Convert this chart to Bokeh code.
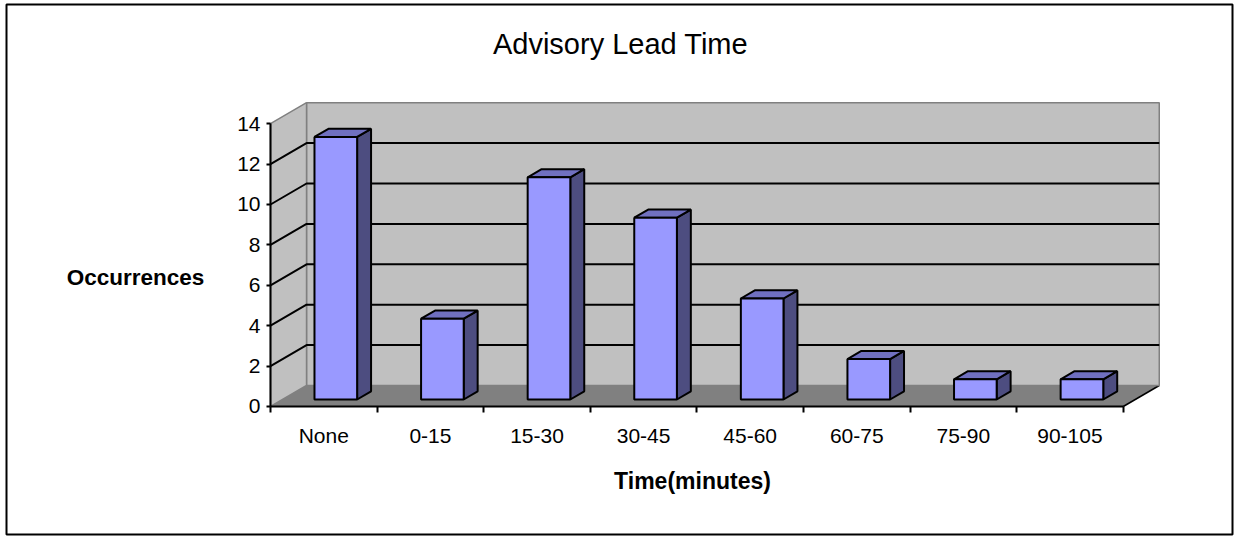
from bokeh.plotting import figure
from bokeh.models import ColumnDataSource, FixedTicker, Label, Range1d
from bokeh.embed import file_html
from bokeh.resources import INLINE

# ---- data ----
categories = ["None", "0-15", "15-30", "30-45", "45-60", "60-75", "75-90", "90-105"]
occurrences = [13, 4, 11, 9, 5, 2, 1, 1]
y_ticks = [0, 2, 4, 6, 8, 10, 12, 14]
title_text = "Advisory Lead Time"
x_title = "Time(minutes)"
y_title = "Occurrences"

# ---- 3D projection parameters (oblique, in data units) ----
DX, DY = 0.338, 1.04          # depth offset of the back wall
A, B = 0.333, 0.72            # bar depth span (fraction of full depth)
HW = 0.2                      # bar half width (category units)
n = len(categories)
y_max = y_ticks[-1]

def P(x, y, d):
    return x + d * DX, y + d * DY

FONT = "Liberation Sans"

# frame covers the whole chart box; axes are pinned with fixed_location
p = figure(width=1234, height=536, frame_width=1226, frame_height=530,
           x_range=Range1d(-2.4768, 9.025), y_range=Range1d(-6.337, 19.901),
           min_border_left=6, min_border_right=2,
           min_border_top=4, min_border_bottom=2,
           output_backend="svg", toolbar_location=None)
p.outline_line_color = "black"
p.outline_line_width = 2
p.xgrid.visible = False
p.ygrid.visible = False
p.background_fill_color = "white"
p.border_fill_color = "white"

# floor
fx, fy = [], []
for (x, y, d) in [(0, 0, 0), (n, 0, 0), (n, 0, 1), (0, 0, 1)]:
    px, py = P(x, y, d); fx.append(px); fy.append(py)
p.patch(fx, fy, fill_color="#808080", line_color=None)
rx0, ry0 = P(n, 0, 0); rx1, ry1 = P(n, 0, 1)
p.line([rx0, rx1], [ry0, ry1], line_color="black", line_width=1.5)

# back wall
bx, by = [], []
for (x, y) in [(0, 0), (n, 0), (n, y_max), (0, y_max)]:
    px, py = P(x, y, 1); bx.append(px); by.append(py)
p.patch(bx, by, fill_color="#c0c0c0", line_color="#808080", line_width=1.5)

# left side wall
sx, sy = [], []
for (y, d) in [(0, 0), (y_max, 0), (y_max, 1), (0, 1)]:
    px, py = P(0, y, d); sx.append(px); sy.append(py)
p.patch(sx, sy, fill_color="#c0c0c0", line_color="#808080", line_width=1.5)

# gridlines (side wall + back wall)
gx, gy = [], []
for v in y_ticks[1:-1]:
    x0, y0 = P(0, v, 0); x1, y1 = P(0, v, 1); x2, y2 = P(n, v, 1)
    gx.append([x0, x1, x2]); gy.append([y0, y1, y2])
p.multi_line(gx, gy, line_color="black", line_width=2)

# bars
front = dict(xs=[], ys=[])
side = dict(xs=[], ys=[])
top = dict(xs=[], ys=[])
for i, v in enumerate(occurrences):
    c = i + 0.5
    l, r = c - HW, c + HW
    fl0 = P(l, 0, A); fr0 = P(r, 0, A); fr1 = P(r, v, A); fl1 = P(l, v, A)
    br0 = P(r, 0, B); br1 = P(r, v, B); bl1 = P(l, v, B)
    front["xs"].append([fl0[0], fr0[0], fr1[0], fl1[0]])
    front["ys"].append([fl0[1], fr0[1], fr1[1], fl1[1]])
    side["xs"].append([fr0[0], br0[0], br1[0], fr1[0]])
    side["ys"].append([fr0[1], br0[1], br1[1], fr1[1]])
    top["xs"].append([fl1[0], fr1[0], br1[0], bl1[0]])
    top["ys"].append([fl1[1], fr1[1], br1[1], bl1[1]])
p.patches("xs", "ys", source=ColumnDataSource(side), fill_color="#4d4d80",
          line_color="black", line_width=2)
p.patches("xs", "ys", source=ColumnDataSource(top), fill_color="#7070c0",
          line_color="black", line_width=2)
p.patches("xs", "ys", source=ColumnDataSource(front), fill_color="#9999ff",
          line_color="black", line_width=2)

# y axis (pinned at x = 0)
ya = p.yaxis[0]
ya.fixed_location = 0
ya.ticker = FixedTicker(ticks=y_ticks, minor_ticks=[])
ya.bounds = (0, y_max)
ya.axis_line_color = "black"
ya.axis_line_width = 2
ya.major_tick_line_color = "black"
ya.major_tick_line_width = 2
ya.major_tick_out = 4
ya.major_tick_in = 0
ya.major_label_standoff = 6
ya.major_label_text_font = FONT
ya.major_label_text_font_size = "21px"
ya.major_label_text_color = "black"

# x axis (pinned at y = 0)
centers = [i + 0.5 for i in range(n)]
bounds_ticks = list(range(n + 1))
xa = p.xaxis[0]
xa.fixed_location = 0
xa.ticker = FixedTicker(ticks=centers, minor_ticks=bounds_ticks)
xa.major_label_overrides = {c: lab for c, lab in zip(centers, categories)}
xa.bounds = (0, n)
xa.axis_line_color = "black"
xa.axis_line_width = 2
xa.major_tick_line_color = None
xa.minor_tick_line_color = "black"
xa.minor_tick_line_width = 2
xa.minor_tick_out = 6
xa.minor_tick_in = 0
xa.major_label_standoff = 12
xa.major_label_text_font = FONT
xa.major_label_text_font_size = "21px"
xa.major_label_text_color = "black"

# titles
p.add_layout(Label(x=3.284, y=17.97, text=title_text, text_align="center",
                   text_baseline="middle", text_font=FONT,
                   text_font_size="29px", text_color="black"))
p.add_layout(Label(x=-1.267, y=6.39, text=y_title, text_align="center",
                   text_baseline="middle", text_font=FONT,
                   text_font_size="22.5px", text_font_style="bold",
                   text_color="black"))
p.add_layout(Label(x=3.959, y=-3.71, text=x_title, text_align="center",
                   text_baseline="middle", text_font=FONT,
                   text_font_size="23px", text_font_style="bold",
                   text_color="black"))

open("out.html", "w").write(file_html(p, INLINE))
